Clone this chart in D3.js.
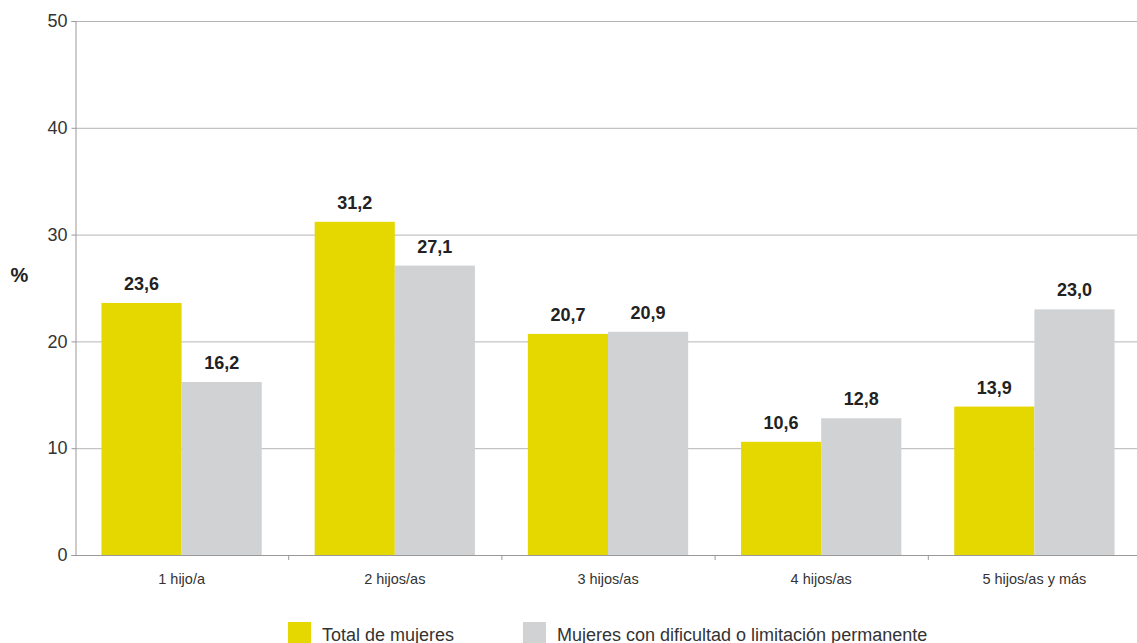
<!DOCTYPE html>
<html><head><meta charset="utf-8">
<script src="https://cdn.jsdelivr.net/npm/d3@7"></script>
<style>body{margin:0;background:#fff}svg{display:block}text{font-family:"Liberation Sans",Arial,sans-serif}</style>
</head><body>
<svg id="c" width="1137" height="643"></svg>
<script>
const categories = ["1 hijo/a","2 hijos/as","3 hijos/as","4 hijos/as","5 hijos/as y más"];
const seriesNames = ["Total de mujeres","Mujeres con dificultad o limitación permanente"];
const totalMujeres = [23.6,31.2,20.7,10.6,13.9];
const conDificultad = [16.2,27.1,20.9,12.8,23.0];
const yTicks = [0,10,20,30,40,50];
const colors = ["#e5d800","#d1d2d4"];

(function(){
const svg = d3.select("#c");
const mLeft = 75, mRight = 1141, mTop = 21, mBottom = 555;
const y = d3.scaleLinear().domain([0,50]).range([mBottom, mTop]);
const x0 = d3.scaleBand().domain(categories).range([mLeft, mRight]).padding(0);
const x1 = d3.scaleBand().domain(seriesNames).range([0, x0.bandwidth()]).paddingInner(0).paddingOuter(0.33);

const data = categories.map((c,i)=>({cat:c, vals:[{s:seriesNames[0],v:totalMujeres[i]},{s:seriesNames[1],v:conDificultad[i]}]}));

// gridlines
svg.append("g").selectAll("line").data(yTicks.filter(t=>t>0)).join("line")
  .attr("x1",mLeft).attr("x2",1137).attr("y1",d=>y(d)+0.5).attr("y2",d=>y(d)+0.5)
  .attr("stroke","#b5b5b5").attr("stroke-width",1);

// bars
const g = svg.append("g").selectAll("g").data(data).join("g")
  .attr("transform",d=>`translate(${x0(d.cat)},0)`);
g.selectAll("rect").data(d=>d.vals).join("rect")
  .attr("x",d=>x1(d.s)).attr("width",x1.bandwidth())
  .attr("y",d=>y(d.v)).attr("height",d=>y(0)-y(d.v))
  .attr("fill",(d,i)=>colors[i]);
g.selectAll("text").data(d=>d.vals).join("text")
  .attr("x",d=>x1(d.s)+x1.bandwidth()/2).attr("y",d=>y(d.v)-13)
  .attr("text-anchor","middle").attr("font-size",18).attr("font-weight","bold").attr("fill","#222")
  .text(d=>d3.format(".1f")(d.v).replace(".",","));

// y axis
const ya = svg.append("g").attr("transform",`translate(${mLeft+0.5},0)`)
  .call(d3.axisLeft(y).tickValues(yTicks).tickSize(4).tickPadding(4));
ya.select(".domain").attr("stroke","#999");
ya.selectAll(".tick line").attr("stroke","#999");
ya.selectAll(".tick text").attr("font-size",18).attr("fill","#333").attr("font-family","Liberation Sans, Arial, sans-serif");

// x axis
const xa = svg.append("g").attr("transform",`translate(0,${mBottom+0.5})`)
  .call(d3.axisBottom(x0).tickSize(0).tickPadding(18));
xa.select(".domain").attr("stroke","#999").attr("d",`M${mLeft},0H1137`);
xa.selectAll(".tick text").attr("font-size",14.5).attr("fill","#333").attr("font-family","Liberation Sans, Arial, sans-serif");
svg.append("g").selectAll("line").data(categories.slice(1)).join("line")
  .attr("x1",d=>x0(d)+0.5).attr("x2",d=>x0(d)+0.5).attr("y1",mBottom).attr("y2",mBottom+5)
  .attr("stroke","#999");

// % label
svg.append("text").attr("x",19.5).attr("y",282).attr("text-anchor","middle")
  .attr("font-size",20).attr("font-weight","bold").attr("fill","#222").text("%");

// legend
const legX = [288, 523];
const lg = svg.append("g").selectAll("g").data(seriesNames).join("g")
  .attr("transform",(d,i)=>`translate(${legX[i]},622)`);
lg.append("rect").attr("width",23).attr("height",21).attr("fill",(d,i)=>colors[i]);
lg.append("text").attr("x",34).attr("y",18.5).attr("font-size",18).attr("fill","#333").text(d=>d);
})();
</script>
</body></html>
